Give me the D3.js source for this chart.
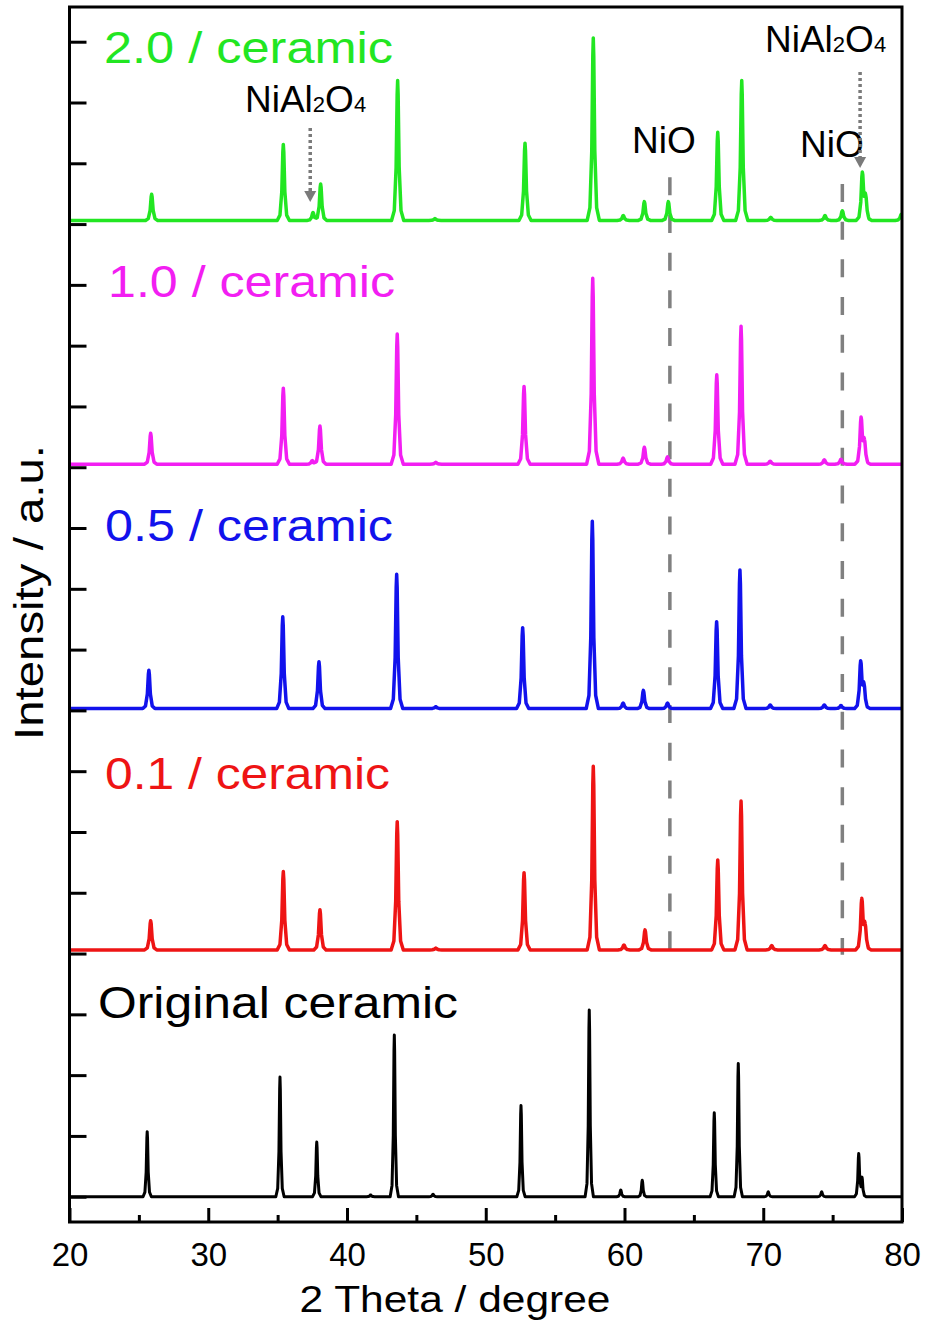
<!DOCTYPE html>
<html>
<head>
<meta charset="utf-8">
<script src="https://cdn.jsdelivr.net/npm/d3@7"></script>
<style>
  body { margin: 0; background: #fff; }
  text { font-family: Arial, "Liberation Sans", sans-serif; }
</style>
</head>
<body>
<script>
// reflections: [2theta (degree), height above the pattern baseline (a.u.)]
const originalPeaks = [[25.6, 1.07], [35.17, 1.97], [37.82, 0.90], [41.7, 0.03], [43.41, 2.66], [46.2, 0.04],
    [52.54, 1.50], [57.46, 3.07], [59.73, 0.11], [61.28, 0.27], [66.47, 1.38], [68.2, 2.19],
    [70.36, 0.08], [74.21, 0.08], [76.88, 0.70], [77.12, 0.30]];
const peaks01 = [[25.85, 0.48], [35.41, 1.29], [38.05, 0.66], [43.62, 2.11], [46.4, 0.03], [52.76, 1.27],
    [57.75, 3.02], [59.96, 0.08], [61.48, 0.33], [66.72, 1.48], [68.4, 2.45], [70.61, 0.07],
    [74.45, 0.07], [77.1, 0.82], [77.34, 0.38]];
const peaks05 = [[25.72, 0.63], [35.37, 1.51], [37.98, 0.77], [43.58, 2.21], [46.4, 0.03], [52.66, 1.33],
    [57.68, 3.08], [59.9, 0.09], [61.36, 0.30], [63.1, 0.09], [66.64, 1.43], [68.32, 2.28],
    [70.5, 0.06], [74.4, 0.06], [75.6, 0.05], [77.02, 0.76], [77.26, 0.36]];
const peaks10 = [[25.85, 0.51], [35.41, 1.25], [37.5, 0.06], [38.05, 0.63], [43.62, 2.14], [46.4, 0.03],
    [52.76, 1.28], [57.71, 3.06], [59.9, 0.10], [61.43, 0.28], [63.1, 0.12], [66.65, 1.47],
    [68.4, 2.27], [70.5, 0.05], [74.4, 0.07], [75.6, 0.08], [77.05, 0.75], [77.29, 0.36]];
const peaks20 = [[25.92, 0.43], [35.41, 1.25], [37.55, 0.13], [38.1, 0.60], [43.65, 2.30], [46.34, 0.03],
    [52.83, 1.27], [57.75, 3.00], [59.91, 0.08], [61.43, 0.31], [63.16, 0.31], [66.72, 1.45],
    [68.45, 2.30], [70.54, 0.05], [74.45, 0.08], [75.70, 0.16], [77.14, 0.77], [77.38, 0.37],
    [79.95, 0.10]];

const sampleNames = ["Original ceramic", "0.1 / ceramic", "0.5 / ceramic", "1.0 / ceramic", "2.0 / ceramic"];
const stackOffsets = [0, 4.06, 8.03, 12.05, 16.06];
const xTicks = [20, 30, 40, 50, 60, 70, 80];
const xMinorTicks = [25, 35, 45, 55, 65, 75];
const yTicks = d3.range(0, 20);
const nioLines = [63.27, 75.7];

const seriesPeaks = [originalPeaks, peaks01, peaks05, peaks10, peaks20];
const seriesColors = ["#000000", "#ee1414", "#1212ec", "#f21ef2", "#22e622"];
const halfWidths = [0.3, 0.44, 0.44, 0.44, 0.44];
const strokeWidths = [3, 3.5, 3.5, 3.5, 3.5];
// label baselines / widths in px
const labelLayout = [
    {x: 98, y: 1018, w: 360},
    {x: 105, y: 789, w: 285},
    {x: 105, y: 541, w: 288},
    {x: 108, y: 297, w: 287},
    {x: 104, y: 63, w: 289}
];

const width = 927, height = 1329;
const plot = {left: 69.5, right: 902, top: 7, bottom: 1222};

const svg = d3.select("body").append("svg")
    .attr("width", width)
    .attr("height", height);

svg.append("rect").attr("width", width).attr("height", height).attr("fill", "#fff");

const x = d3.scaleLinear().domain([20, 80]).range([plot.left, plot.right]);
const y = d3.scaleLinear().domain([-0.416, 19.571]).range([plot.bottom, plot.top]);

svg.append("defs").append("clipPath").attr("id", "clip")
    .append("rect")
    .attr("x", plot.left).attr("y", plot.top)
    .attr("width", plot.right - plot.left).attr("height", plot.bottom - plot.top);

// peak glyph (relative to half base width / height)
const peakShape = [[-1, 0], [-0.55, 0.07], [-0.25, 0.38], [-0.08, 0.9], [0, 1], [0.08, 0.9], [0.25, 0.38], [0.55, 0.07], [1, 0]];

function shapeAt(u){
    if (u <= -1 || u >= 1) return 0;
    for (let i = 1; i < peakShape.length; i++){
        const [u1, v1] = peakShape[i], [u0, v0] = peakShape[i - 1];
        if (u <= u1) return v0 + (v1 - v0) * (u - u0) / (u1 - u0);
    }
    return 0;
}

function pattern(peaks, offset, hw){
    let xs = [20, 80];
    peaks.forEach(([c]) => peakShape.forEach(([u]) => xs.push(c + u * hw)));
    xs = Array.from(new Set(xs.filter(t => t >= 20 && t <= 80))).sort((a, b) => a - b);
    return xs.map(t => [t, offset + d3.sum(peaks, ([c, h]) => h * shapeAt((t - c) / hw))]);
}

// NiO reference lines
const nioExtent = [[y(16.77), y(4.06)], [y(16.66), y(3.98)]];
svg.append("g").selectAll("line")
    .data(nioLines)
    .enter().append("line")
    .attr("x1", d => x(d)).attr("x2", d => x(d))
    .attr("y1", (d, i) => nioExtent[i][0])
    .attr("y2", (d, i) => nioExtent[i][1])
    .attr("stroke", "#808080")
    .attr("stroke-width", 3.5)
    .attr("stroke-dasharray", "18,19.7");

const line = d3.line().x(d => x(d[0])).y(d => y(d[1]));

svg.append("g").attr("clip-path", "url(#clip)")
    .selectAll("path")
    .data(seriesPeaks)
    .enter().append("path")
    .attr("d", (d, i) => line(pattern(d, stackOffsets[i], halfWidths[i])))
    .attr("fill", "none")
    .attr("stroke", (d, i) => seriesColors[i])
    .attr("stroke-width", (d, i) => strokeWidths[i])
    .attr("stroke-linejoin", "round");

// axes
const xAxis = svg.append("g")
    .attr("transform", "translate(0," + plot.bottom + ")")
    .call(d3.axisBottom(x).tickValues(xTicks).tickSize(-14).tickPadding(21).tickFormat(d3.format("d")));
const xMinor = svg.append("g")
    .attr("transform", "translate(0," + plot.bottom + ")")
    .call(d3.axisBottom(x).tickValues(xMinorTicks).tickSize(-7).tickFormat(""));
const yAxis = svg.append("g")
    .attr("transform", "translate(" + plot.left + ",0)")
    .call(d3.axisLeft(y).tickValues(yTicks).tickSize(-17).tickFormat(""));

[xAxis, xMinor, yAxis].forEach(g => {
    g.select(".domain").remove();
    g.selectAll(".tick line").attr("stroke", "#000").attr("stroke-width", 3);
});
xAxis.selectAll(".tick text")
    .attr("fill", "#000")
    .style("font-size", "33px")
    .style("font-family", "Arial, 'Liberation Sans', sans-serif");

svg.append("rect")
    .attr("x", plot.left).attr("y", plot.top)
    .attr("width", plot.right - plot.left).attr("height", plot.bottom - plot.top)
    .attr("fill", "none")
    .attr("stroke", "#000")
    .attr("stroke-width", 3);

// sample labels
svg.append("g").selectAll("text")
    .data(sampleNames)
    .enter().append("text")
    .attr("x", (d, i) => labelLayout[i].x)
    .attr("y", (d, i) => labelLayout[i].y)
    .attr("textLength", (d, i) => labelLayout[i].w)
    .attr("lengthAdjust", "spacingAndGlyphs")
    .style("font-size", "45px")
    .attr("fill", (d, i) => seriesColors[i])
    .text(d => d);

// phase annotations
function spinelLabel(px, py){
    const t = svg.append("text").attr("x", px).attr("y", py)
        .style("font-size", "37px").attr("fill", "#000");
    t.append("tspan").text("NiAl");
    t.append("tspan").style("font-size", "22px").text("2");
    t.append("tspan").text("O");
    t.append("tspan").style("font-size", "22px").text("4");
}
spinelLabel(245, 112);
spinelLabel(765, 52);

svg.append("text").attr("x", 632).attr("y", 153).style("font-size", "37px").text("NiO");
svg.append("text").attr("x", 800).attr("y", 157).style("font-size", "37px").text("NiO");

function dottedArrow(t, yTop, yTip){
    const px = x(t);
    svg.append("line")
        .attr("x1", px).attr("x2", px)
        .attr("y1", yTop).attr("y2", yTip - 9)
        .attr("stroke", "#7a7a7a")
        .attr("stroke-width", 3.5)
        .attr("stroke-dasharray", "3,3");
    svg.append("path")
        .attr("d", "M" + (px - 6) + "," + (yTip - 11) + "L" + (px + 6) + "," + (yTip - 11) + "L" + px + "," + yTip + "Z")
        .attr("fill", "#7a7a7a");
}
dottedArrow(37.35, 128, 202);
dottedArrow(76.98, 72, 168);

// axis titles
svg.append("text")
    .attr("x", 455).attr("y", 1312)
    .attr("text-anchor", "middle")
    .attr("textLength", 311)
    .attr("lengthAdjust", "spacingAndGlyphs")
    .style("font-size", "36px")
    .text("2 Theta / degree");

svg.append("text")
    .attr("transform", "translate(42.7,592.5) rotate(-90)")
    .attr("text-anchor", "middle")
    .attr("textLength", 295)
    .attr("lengthAdjust", "spacingAndGlyphs")
    .style("font-size", "40px")
    .text("Intensity / a.u.");
</script>
</body>
</html>
